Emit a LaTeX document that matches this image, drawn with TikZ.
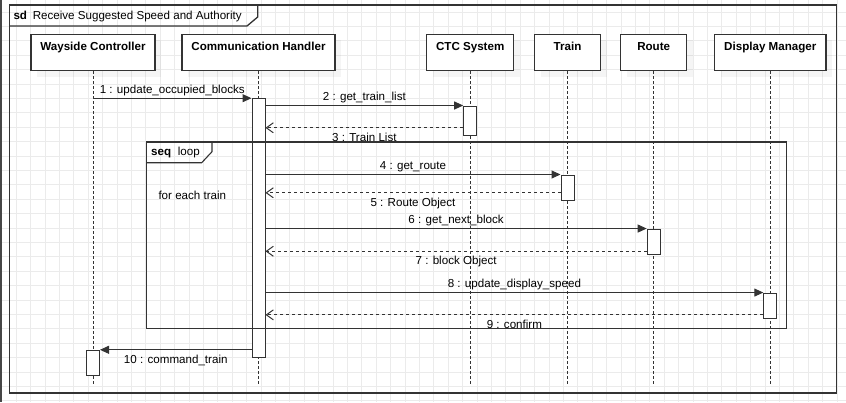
\documentclass[tikz,border=0pt]{standalone}
\usepackage{fontspec}
\setmainfont{Liberation Sans}
\usetikzlibrary{arrows.meta,shadows}

\definecolor{ink}{HTML}{333333}
\definecolor{gridgray}{HTML}{EBEBEB}
\newcommand{\sdsize}{\fontsize{11.6pt}{14pt}\selectfont}

\tikzset{
    gridline/.style={draw=gridgray, line width=0.9pt},
    frame/.style={draw=ink, line width=1.3pt},
    head/.style={draw=ink, fill=white, line width=1.1pt, anchor=north,
        minimum height=36.5pt, inner sep=3pt, text height=13.5pt, text depth=17pt,
        font=\sdsize\bfseries,
        drop shadow={shadow xshift=6pt, shadow yshift=-6pt, fill=black, opacity=0.04}},
    lifeline/.style={draw=ink, line width=0.9pt, dash pattern=on 2.5pt off 2.5pt},
    act/.style={draw=ink, fill=white, line width=1pt, minimum width=13pt, inner sep=0pt},
    call/.style={draw=ink, line width=1pt, -{Triangle[length=9pt,width=8pt]}},
    ret/.style={draw=ink, line width=1pt, dash pattern=on 3pt off 3pt,
        -{Straight Barb[length=7pt,width=10pt]}},
    lbla/.style={above, inner sep=2.2pt, text height=8.5pt, text depth=2.5pt, text=black},
    lblb/.style={below, inner sep=4.2pt, text height=8.5pt, text depth=2.5pt, text=black},
}

\begin{document}
\begin{tikzpicture}[x=1pt, y=-1pt, font=\sdsize]
    \useasboundingbox (0,0) rectangle (846,402);
    \foreach \i in {0,...,58}
        \draw[gridline] (1.9+14.4*\i,0) -- ++(0,402);
    \foreach \j in {0,...,27}
        \draw[gridline] (0,12.1+14.4*\j) -- ++(846,0);
    \fill[ink!90] (0,0) rectangle (2.2,402);

    % sd frame
    \draw[frame] (9.5,5) rectangle (836.7,393);
    \draw[frame] (9.5,26) -- (247,26) -- (257.7,17) -- (257.7,5);
    \node[anchor=base west, inner sep=0pt] (sdtitle) at (13.3,19)
        {\textbf{sd}\hspace{2.5pt} Receive Suggested Speed and Authority};

    % lifelines
    \foreach \n/\x/\w/\t in {wc/93/124/Wayside Controller,
                            ch/258.5/153/Communication Handler,
                            ctc/470.2/87/CTC System,
                            train/567.5/66/Train,
                            route/653.7/66/Route,
                            disp/770.3/111.4/Display Manager} {
        \node[head, minimum width=\w] (\n) at (\x,33.5) {\t};
        \coordinate (\n end) at (\x,386);
        \draw[lifeline] (\n) -- (\n end);
    }

    % activations
    \node[act, minimum height=258.6] (acomm) at (ch |- 0,228) {};
    \node[act, minimum height=29] (actc) at (ctc |- 0,120.5) {};
    \node[act, minimum height=25] (atrain) at (train |- 0,187.5) {};
    \node[act, minimum height=25.3] (aroute) at (route |- 0,241.7) {};
    \node[act, minimum height=25.3] (adisp) at (disp |- 0,305.7) {};
    \node[act, minimum height=25.4] (awc) at (wc |- 0,363) {};

    % messages
    \draw[call] (wc |- acomm.north) -- node[lbla] {1 : update\_occupied\_blocks} (acomm.north west);
    \draw[call] (acomm.east |- actc.north) -- node[lbla] {2 : get\_train\_list} (actc.north west);
    \draw[ret] ([yshift=7.7pt]actc.south west) coordinate (m3) -- node[lblb] {3 : Train List} (acomm.east |- m3);
    \draw[call] (acomm.east |- atrain.north) -- node[lbla] {4 : get\_route} (atrain.north west);
    \draw[ret] ([yshift=7.7pt]atrain.south west) coordinate (m5) -- node[lblb] {5 : Route Object} (acomm.east |- m5);
    \draw[call] (acomm.east |- aroute.north) -- node[lbla] {6 : get\_next\_block} (aroute.north west);
    \draw[ret] ([yshift=3.6pt]aroute.south west) coordinate (m7) -- node[lblb] {7 : block Object} (acomm.east |- m7);
    \draw[call] (acomm.east |- adisp.north) -- node[lbla] {8 : update\_display\_speed} (adisp.north west);
    \draw[ret] ([yshift=4pt]adisp.south west) coordinate (m9) -- node[lblb] {9 : confirm} (acomm.east |- m9);
    \draw[call] (acomm.west |- awc.north) -- node[lblb] {10 : command\_train} (awc.north east);

    % loop fragment
    \draw[frame, line width=1.1pt] (146.3,142) rectangle (786.7,328.7);
    \draw[frame, line width=1.1pt] (146.3,162.7) -- (201.7,162.7) -- (212,151.7) -- (212,142);
    \node[anchor=base west, inner sep=0pt] (looptitle) at (151,155.7) {\textbf{seq}\hspace{3.5pt} loop};
    \node[anchor=base west, inner sep=0pt] (guard) at (158.3,199) {for each train};
\end{tikzpicture}
\end{document}
